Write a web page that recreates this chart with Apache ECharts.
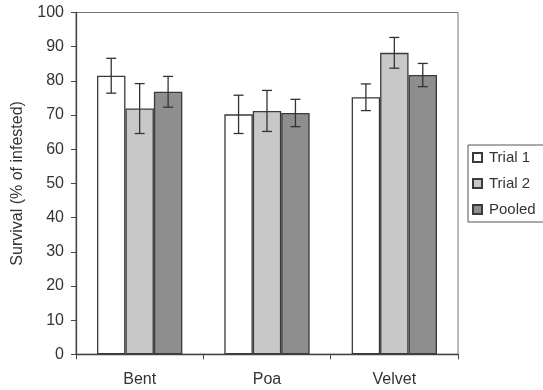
<!DOCTYPE html>
<html>
<head>
<meta charset="utf-8">
<script src="https://cdn.jsdelivr.net/npm/echarts@6/dist/echarts.min.js"></script>
<style>
  html, body { margin: 0; padding: 0; background: #fff; }
  #chart { width: 543px; height: 390px; }
</style>
</head>
<body>
<div id="chart"></div>
<script>
const categories = ["Bent", "Poa", "Velvet"];
const seriesNames = ["Trial 1", "Trial 2", "Pooled"];
const trial1 = [81.5, 70.2, 75.2];
const trial2 = [71.9, 71.2, 88.2];
const pooled = [76.8, 70.6, 81.7];
const err1 = [5.1, 5.6, 3.9];
const err2 = [7.3, 6.0, 4.5];
const err3 = [4.5, 4.0, 3.4];
const yTicks = [0, 10, 20, 30, 40, 50, 60, 70, 80, 90, 100];

const colors = ["#ffffff", "#c8c8c8", "#8e8e8e"];
const values = [trial1, trial2, pooled];
const errors = [err1, err2, err3];
const gapRatio = 0.33;

const chart = echarts.init(document.getElementById("chart"));

// error bars drawn next to each bar of the group
function errorSeries(k) {
  const data = categories.map((c, i) => [i, values[k][i] - errors[k][i], values[k][i] + errors[k][i]]);
  return {
    type: "custom",
    name: "err" + k,
    z: 5,
    data,
    encode: { x: 0, y: [1, 2] },
    renderItem(params, api) {
      const idx = api.value(0);
      const band = api.size([1, 0])[0];
      const bw = band * (1 - gapRatio) / 3;
      const hi = api.coord([idx, api.value(2)]);
      const lo = api.coord([idx, api.value(1)]);
      const x = hi[0] + (k - 1) * bw;
      const cap = 5;
      const style = { stroke: "#333", lineWidth: 1.3 };
      return {
        type: "group",
        children: [
          { type: "line", shape: { x1: x, y1: hi[1], x2: x, y2: lo[1] }, style },
          { type: "line", shape: { x1: x - cap, y1: hi[1], x2: x + cap, y2: hi[1] }, style },
          { type: "line", shape: { x1: x - cap, y1: lo[1], x2: x + cap, y2: lo[1] }, style }
        ]
      };
    }
  };
}

const barSeries = seriesNames.map((name, k) => ({
  name,
  type: "bar",
  data: values[k],
  barGap: "0%",
  barCategoryGap: (gapRatio * 100) + "%",
  itemStyle: { color: colors[k], borderColor: "#3a3a3a", borderWidth: 1.3 }
}));

chart.setOption({
  animation: false,
  textStyle: { fontFamily: "Liberation Sans, Arial, sans-serif" },
  grid: {
    left: 76, right: 85, top: 12.5, bottom: 35.7,
    show: true, borderColor: "#777", borderWidth: 1
  },
  legend: {
    data: seriesNames,
    orient: "vertical",
    left: 468,
    top: 145,
    padding: [5, 10, 5, 4],
    itemGap: 11,
    itemWidth: 9,
    itemHeight: 9,
    icon: "rect",
    borderColor: "#555",
    borderWidth: 1,
    textStyle: { fontSize: 15, color: "#333", padding: [0, 0, 0, 2] }
  },
  xAxis: {
    type: "category",
    data: categories,
    axisLine: { lineStyle: { color: "#444", width: 1.3 } },
    axisTick: { show: true, length: 5, lineStyle: { color: "#444" } },
    axisLabel: { fontSize: 16, color: "#333", margin: 17 }
  },
  yAxis: {
    type: "value",
    min: 0,
    max: 100,
    interval: 10,
    name: "Survival (% of infested)",
    nameLocation: "middle",
    nameGap: 50,
    nameTextStyle: { fontSize: 16, color: "#333" },
    axisLine: { show: true, lineStyle: { color: "#444", width: 1.3 } },
    axisTick: { show: true, length: 5, lineStyle: { color: "#444" } },
    axisLabel: {
      fontSize: 16, color: "#333", margin: 12,
      formatter: v => (yTicks.includes(v) ? String(v) : "")
    },
    splitLine: { show: false }
  },
  series: barSeries.concat([0, 1, 2].map(errorSeries))
});
</script>
</body>
</html>
